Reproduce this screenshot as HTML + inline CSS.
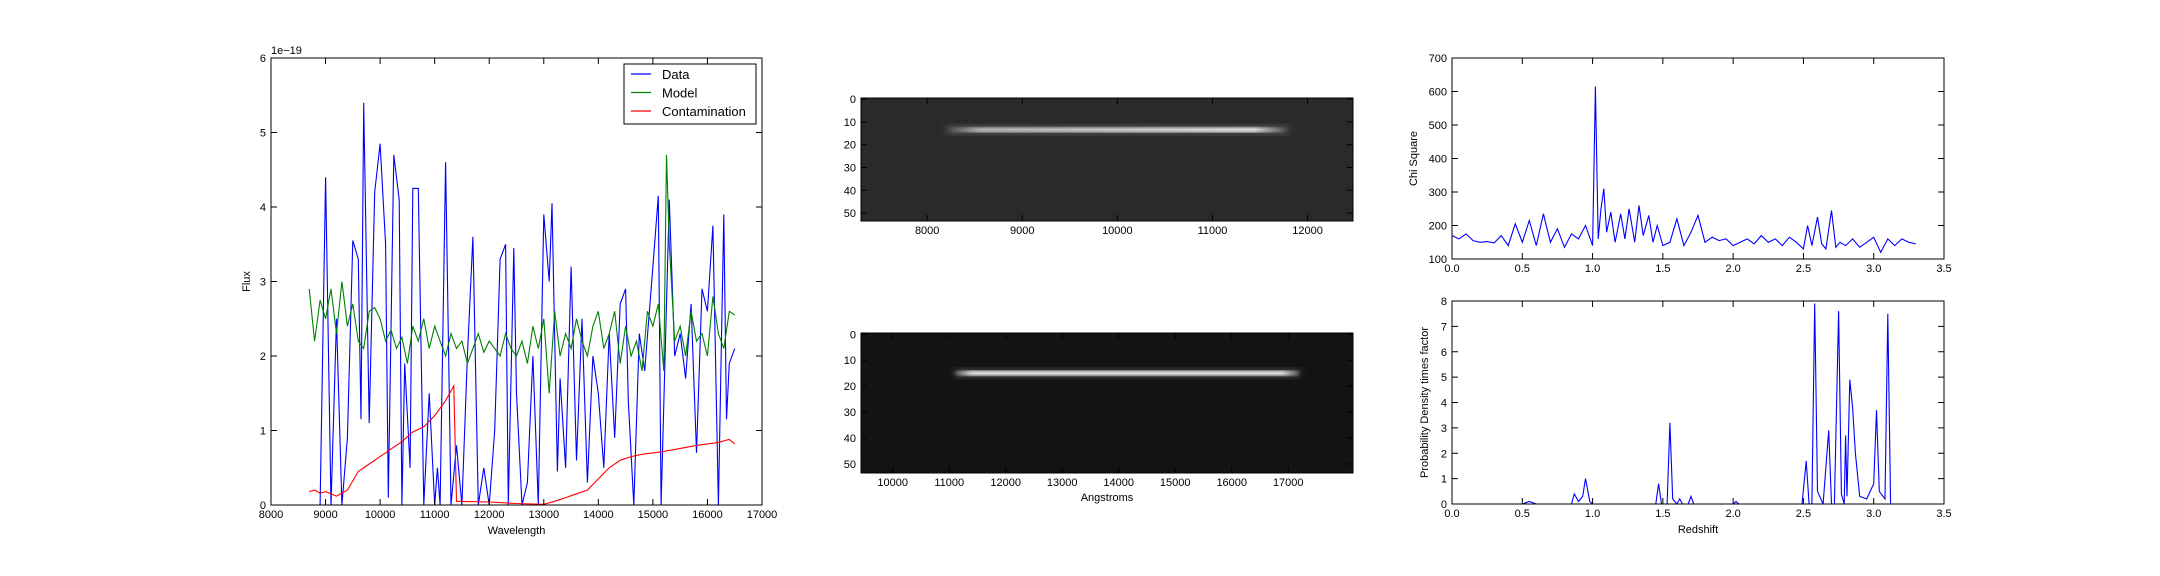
<!DOCTYPE html>
<html><head><meta charset="utf-8"><style>
html,body{margin:0;padding:0;background:#fff}
svg{display:block;font-family:"Liberation Sans",sans-serif}
</style></head><body>
<svg id="fig" width="2160" height="576" viewBox="0 0 2160 576">
<defs>
<linearGradient id="g1" x1="0" x2="1" y1="0" y2="0">
<stop offset="0" stop-color="#ddd" stop-opacity="0"/><stop offset="0.1" stop-color="#ddd" stop-opacity="0.8"/><stop offset="0.9" stop-color="#eee" stop-opacity="1"/><stop offset="1" stop-color="#eee" stop-opacity="0"/>
</linearGradient>
<linearGradient id="g2" x1="0" x2="1" y1="0" y2="0">
<stop offset="0" stop-color="#eee" stop-opacity="0.2"/><stop offset="0.05" stop-color="#eee" stop-opacity="1"/><stop offset="0.95" stop-color="#eee" stop-opacity="1"/><stop offset="1" stop-color="#eee" stop-opacity="0.2"/>
</linearGradient>
<filter id="blur"><feGaussianBlur stdDeviation="1.6"/></filter>
<filter id="blur2"><feGaussianBlur stdDeviation="4"/></filter>
</defs>
<g id="root"></g>
</svg>
<script>
// ---- spectrum data ----
const specWave=[8700,8900,9000,9100,9200,9300,9400,9500,9600,9650,9700,9800,9900,10000,10100,10150,10250,10350,10400,10450,10550,10600,10700,10800,10900,11000,11050,11100,11200,11300,11400,11500,11600,11700,11800,11900,12000,12100,12200,12300,12350,12450,12500,12600,12700,12800,12900,13000,13100,13150,13250,13300,13400,13500,13600,13700,13800,13900,14000,14100,14200,14300,14400,14500,14550,14650,14750,14850,15000,15100,15150,15300,15400,15500,15600,15700,15800,15900,16000,16100,16200,16300,16350,16400,16500];
const specData=[0,0,4.4,0,2.5,0,0.9,3.55,3.3,1.15,5.4,1.1,4.2,4.85,3.5,0.1,4.7,4.1,0,1.9,0.5,4.25,4.25,0,1.5,0,0.5,0,4.6,0,0.8,0,2.0,3.6,0,0.5,0,1.0,3.3,3.5,0,3.45,1.5,0,0.3,2.0,0,3.9,3.0,4.05,0.45,1.7,0.5,3.2,0.6,2.5,0.3,2.0,1.5,0.5,2.3,0.9,2.7,2.9,1.4,0,2.3,1.8,3.2,4.15,0,4.1,2.0,2.3,1.7,2.7,0.7,2.9,2.6,3.75,0,3.9,1.15,1.9,2.1];
const modelWave=[8700,8800,8900,9000,9100,9200,9300,9400,9500,9600,9700,9800,9900,10000,10100,10200,10300,10400,10500,10600,10700,10800,10900,11000,11100,11200,11300,11400,11500,11600,11700,11800,11900,12000,12100,12200,12300,12400,12500,12600,12700,12800,12900,13000,13100,13200,13300,13400,13500,13600,13700,13800,13900,14000,14100,14200,14300,14400,14500,14600,14700,14800,14900,15000,15100,15200,15250,15300,15400,15500,15600,15700,15800,15900,16000,16100,16200,16300,16400,16500];
const modelVal=[2.9,2.2,2.75,2.5,2.9,2.3,3.0,2.4,2.7,2.2,2.1,2.6,2.65,2.5,2.2,2.35,2.1,2.25,1.9,2.4,2.2,2.5,2.1,2.4,2.2,2.0,2.3,2.1,2.2,1.9,2.1,2.3,2.05,2.2,2.1,2.0,2.3,2.1,2.0,2.2,1.9,2.4,2.1,2.5,1.5,2.6,2.0,2.3,2.1,2.5,2.2,2.0,2.4,2.6,2.1,2.3,2.6,1.9,2.4,2.0,2.2,1.8,2.6,2.4,2.7,1.8,4.7,3.5,2.2,2.4,2.0,2.6,2.2,2.3,2.0,2.8,2.3,2.1,2.6,2.55];
const contWave=[8700,8800,8900,9000,9200,9400,9600,9800,10000,10200,10400,10600,10800,11000,11200,11350,11400,12000,12500,13000,13200,13400,13600,13800,14000,14200,14400,14600,14800,15000,15200,15500,15800,16000,16200,16400,16500];
const contVal=[0.18,0.2,0.16,0.18,0.12,0.2,0.45,0.55,0.65,0.75,0.85,0.98,1.05,1.2,1.4,1.6,0.05,0.04,0.02,0.01,0.05,0.1,0.15,0.2,0.35,0.5,0.6,0.65,0.68,0.7,0.72,0.76,0.8,0.82,0.84,0.88,0.82];
const specXTicks=[8000,9000,10000,11000,12000,13000,14000,15000,16000,17000];
const specYTicks=[0,1,2,3,4,5,6];
// ---- chi square ----
const chiZ=[0,0.05,0.1,0.15,0.2,0.25,0.3,0.35,0.4,0.45,0.5,0.55,0.6,0.65,0.7,0.75,0.8,0.85,0.9,0.95,1.0,1.02,1.04,1.06,1.08,1.1,1.13,1.16,1.2,1.23,1.26,1.3,1.33,1.36,1.4,1.43,1.46,1.5,1.55,1.6,1.65,1.7,1.75,1.8,1.85,1.9,1.95,2.0,2.05,2.1,2.15,2.2,2.25,2.3,2.35,2.4,2.45,2.5,2.53,2.56,2.6,2.63,2.66,2.7,2.73,2.76,2.8,2.85,2.9,2.95,3.0,3.05,3.1,3.15,3.2,3.25,3.3];
const chiVal=[170,160,175,155,150,152,148,170,140,205,150,215,140,235,150,190,135,175,160,200,140,615,160,250,310,180,240,150,235,160,250,150,260,170,230,150,200,140,150,220,140,180,230,150,165,155,160,140,150,160,145,170,150,160,140,165,150,130,200,140,225,145,130,245,135,150,140,160,135,150,165,120,160,140,160,150,145];
const chiXTicks=[0,0.5,1,1.5,2,2.5,3,3.5];
const chiYTicks=[100,200,300,400,500,600,700];
// ---- probability density ----
const pdfZ=[0,0.5,0.55,0.6,0.85,0.87,0.9,0.93,0.95,0.98,1.0,1.45,1.47,1.49,1.53,1.55,1.57,1.6,1.62,1.64,1.68,1.7,1.72,2.0,2.02,2.04,2.49,2.52,2.54,2.56,2.58,2.6,2.64,2.68,2.7,2.72,2.75,2.77,2.79,2.8,2.81,2.83,2.85,2.87,2.9,2.95,3.0,3.02,3.04,3.08,3.1,3.12,3.3];
const pdfVal=[0,0,0.1,0,0,0.4,0.1,0.3,1.0,0.1,0,0,0.8,0,0,3.2,0.2,0,0.2,0,0,0.3,0,0,0.1,0,0,1.7,0,0,7.9,0.5,0,2.9,0,0,7.6,0.4,0,2.7,0.3,4.9,3.8,2.0,0.3,0.2,0.8,3.7,0.5,0.2,7.5,0,0];
const pdfXTicks=[0,0.5,1,1.5,2,2.5,3,3.5];
const pdfYTicks=[0,1,2,3,4,5,6,7,8];
// ---- image axes ticks ----
const img1XTicks=[8000,9000,10000,11000,12000];
const img2XTicks=[10000,11000,12000,13000,14000,15000,16000,17000];
const imgYTicks=[0,10,20,30,40,50];

const NS="http://www.w3.org/2000/svg";
const root=document.getElementById('root');
function mk(tag,attrs,parent){const e=document.createElementNS(NS,tag);for(const k in attrs)e.setAttribute(k,attrs[k]);(parent||root).appendChild(e);return e;}
function txt(s,x,y,anchor,size,parent,rot){const t=mk('text',{x:x,y:y,'text-anchor':anchor,'font-size':size,fill:'#000'},parent);if(rot)t.setAttribute('transform','rotate(-90 '+x+' '+y+')');t.textContent=s;return t;}
function scale(d0,d1,r0,r1){return v=>r0+(v-d0)/(d1-d0)*(r1-r0);}

function axes(name,L,T,R,B){
  const g=mk('g',{});
  
  
  mk('rect',{x:L,y:T,width:R-L,height:B-T,fill:'#fff',stroke:'none'},g);
  return g;
}
function frame(g,L,T,R,B,xs,ys,xt,yt,xfmt,yfmt){
  mk('rect',{x:L,y:T,width:R-L,height:B-T,fill:'none',stroke:'#000','stroke-width':1},g);
  xt.forEach(v=>{const x=xs(v);
    mk('line',{x1:x,x2:x,y1:B,y2:B-6,stroke:'#000'},g);
    mk('line',{x1:x,x2:x,y1:T,y2:T+6,stroke:'#000'},g);
    const t=txt(xfmt(v),x,B+13,'middle',11,g);
    
    
  });
  yt.forEach(v=>{const y=ys(v);
    mk('line',{x1:L,x2:L+6,y1:y,y2:y,stroke:'#000'},g);
    mk('line',{x1:R,x2:R-6,y1:y,y2:y,stroke:'#000'},g);
    const t=txt(yfmt(v),L-5,y+4,'end',11,g);
    
    
  });
}
function line(g,xs,ys,X,Y,color,name){
  const d=X.map((x,i)=>(i?'L':'M')+xs(x).toFixed(1)+','+ys(Y[i]).toFixed(1)).join('');
  const p=mk('path',{d:d,fill:'none',stroke:color,'stroke-width':1.1},g);
  
  
}

// ---- left spectrum ----
(function(){
  const L=271,T=58,R=762,B=505;
  const xs=scale(8000,17000,L,R), ys=scale(0,6,B,T);
  const g=axes('spectrum-axes',L,T,R,B);
  const cp=mk('clipPath',{id:'c1'},g);mk('rect',{x:L,y:T,width:R-L,height:B-T},cp);
  const lg=mk('g',{'clip-path':'url(#c1)'},g);
  line(lg,xs,ys,specWave,specData,'#0000ff','data-line');
  line(lg,xs,ys,modelWave,modelVal,'#008000','model-line');
  line(lg,xs,ys,contWave,contVal,'#ff0000','contamination-line');
  frame(g,L,T,R,B,xs,ys,specXTicks,specYTicks,v=>String(v),v=>String(v));
  const e=txt('1e\u221219',L,T-4,'start',11,g);
  const xl=txt('Wavelength',(L+R)/2,B+29,'middle',11,g);
  const yl=txt('Flux',L-21,(T+B)/2,'middle',11,g,true);
  const leg=mk('g',{},g);
  
  
  mk('rect',{x:624,y:64,width:132,height:60,fill:'#fff',stroke:'#000'},leg);
  [['Data','#0000ff'],['Model','#008000'],['Contamination','#ff0000']].forEach((a,i)=>{
    const y=74+i*18.5;
    const le=mk('g',{},leg);
    
    
    mk('line',{x1:631,x2:651,y1:y,y2:y,stroke:a[1],'stroke-width':1.2},le);
    txt(a[0],662,y+5,'start',13,le);
  });
})();

// ---- images ----
function imagePanel(name,L,T,R,B,x0,x1,ticks,bg,streak,sy,grad,xlabel){
  const xs=scale(x0,x1,L,R), ys=scale(-0.5,53.5,T,B);
  const g=axes(name,L,T,R,B);
  mk('rect',{x:L,y:T,width:R-L,height:B-T,fill:bg},g);
  mk('rect',{x:xs(streak[0]),y:ys(sy)-5,width:xs(streak[1])-xs(streak[0]),height:10,fill:'#888','fill-opacity':0.35,filter:'url(#blur2)'},g);
  const s=mk('rect',{x:xs(streak[0]),y:ys(sy)-2.5,width:xs(streak[1])-xs(streak[0]),height:5,fill:'url(#'+grad+')',filter:'url(#blur)'},g);
  
  
  frame(g,L,T,R,B,xs,ys,ticks,imgYTicks,v=>String(v),v=>String(v));
  if(xlabel){const t=txt(xlabel,(L+R)/2,B+28,'middle',11,g);}
}
imagePanel('image-top',861,98,1353,221,7304,12478,img1XTicks,'#2a2a2a',[8200,11800],13.5,'g1',null);
imagePanel('image-bottom',861,333,1353,473,9439,18146,img2XTicks,'#131313',[11100,17200],15,'g2','Angstroms');

// ---- chi square ----
(function(){
  const L=1452,T=58,R=1944,B=259;
  const xs=scale(0,3.5,L,R), ys=scale(100,700,B,T);
  const g=axes('chi-square-axes',L,T,R,B);
  line(g,xs,ys,chiZ,chiVal,'#0000ff','chi-square-line');
  frame(g,L,T,R,B,xs,ys,chiXTicks,chiYTicks,v=>v.toFixed(1),v=>String(v));
  const yl=txt('Chi Square',L-35,(T+B)/2,'middle',11,g,true);
})();

// ---- pdf ----
(function(){
  const L=1452,T=301,R=1944,B=504;
  const xs=scale(0,3.5,L,R), ys=scale(0,8,B,T);
  const g=axes('pdf-axes',L,T,R,B);
  line(g,xs,ys,pdfZ,pdfVal,'#0000ff','pdf-line');
  frame(g,L,T,R,B,xs,ys,pdfXTicks,pdfYTicks,v=>v.toFixed(1),v=>String(v));
  const xl=txt('Redshift',(L+R)/2,B+29,'middle',11,g);
  const yl=txt('Probability Density times factor',L-24,(T+B)/2,'middle',11,g,true);
})();
</script>
</body></html>
